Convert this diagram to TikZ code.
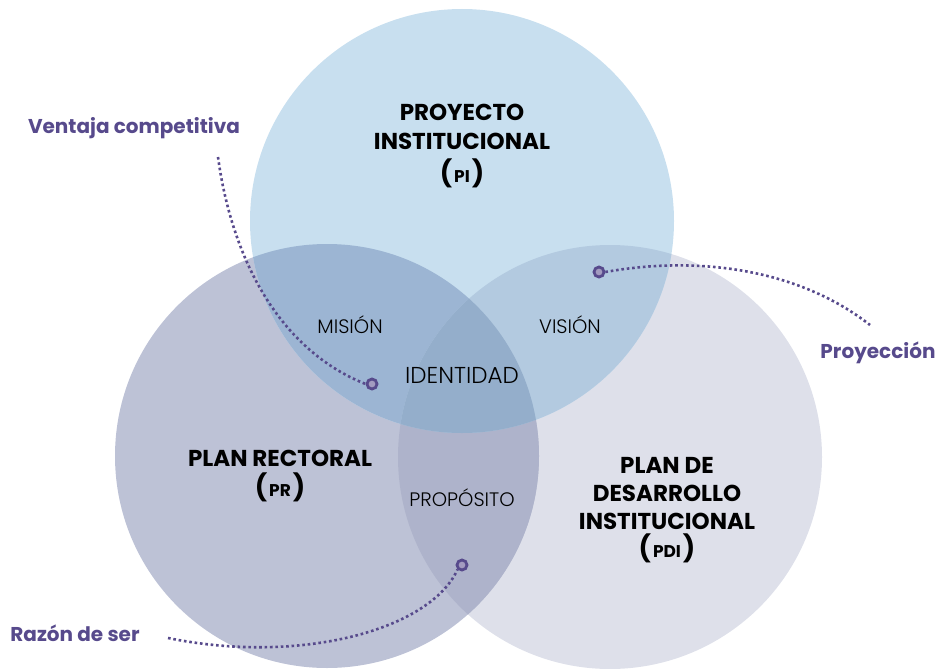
\documentclass[tikz,border=0pt]{standalone}
\usepackage{fontspec}
\setmainfont{Poppins}
\newfontfamily\lightf{Poppins}[UprightFont=* Light]
\definecolor{cTop}{HTML}{C8DFEF}
\definecolor{cLeft}{HTML}{BDC2D6}
\definecolor{cRight}{HTML}{DEE0EA}
\definecolor{cTL}{HTML}{9CB5D3}
\definecolor{cTR}{HTML}{B3CAE0}
\definecolor{cLR}{HTML}{AEB3CB}
\definecolor{cAll}{HTML}{94AECB}
\definecolor{pur}{HTML}{574A8C}
\newcommand{\abbr}[1]{{\fontsize{26}{29}\selectfont(\hspace{2pt}}{\fontsize{17}{18}\selectfont #1}{\fontsize{26}{29}\selectfont\hspace{2pt})}}
\tikzset{
  big/.style={font=\bfseries\fontsize{23}{29}\selectfont, align=center, text=black},
  thin/.style={font=\lightf\fontsize{19.5}{22}\selectfont, text=black},
  callout/.style={font=\bfseries\fontsize{20}{22}\selectfont, text=pur},
  dots/.style={draw=pur, line width=2.6pt, dash pattern=on 2.6pt off 2.8pt},
  endpt/.style={circle, draw=pur, line width=2.8pt, fill=pur!55, minimum size=10pt, inner sep=0pt}
}
\begin{document}
\begin{tikzpicture}[x=1pt,y=-1pt]
\useasboundingbox (0,0) rectangle (945,669);
\def\Tc{(462,221) circle (212)}
\def\Lc{(327,456) circle (212)}
\def\Rc{(610,457) circle (212)}
\fill[cRight] \Rc;
\fill[cLeft] \Lc;
\fill[cTop] \Tc;
\begin{scope}\clip \Lc; \fill[cLR] \Rc; \end{scope}
\begin{scope}\clip \Tc; \fill[cTL] \Lc; \end{scope}
\begin{scope}\clip \Tc; \fill[cTR] \Rc; \end{scope}
\begin{scope}\clip \Tc; \clip \Lc; \fill[cAll] \Rc; \end{scope}

\node[big] (pi) at (462,146) {PROYECTO\\INSTITUCIONAL\\[4pt]\abbr{PI}};
\node[big] (pr) at (280,476) {PLAN RECTORAL\\[1pt]\abbr{PR}};
\node[big, font=\bfseries\fontsize{23}{28}\selectfont] (pdi) at (667,510) {PLAN DE\\DESARROLLO\\INSTITUCIONAL\\[0pt]\abbr{PDI}};

\node[thin] (mision) at (350,325) {MISIÓN};
\node[thin] (vision) at (570,325) {VISIÓN};
\node[thin, font=\lightf\fontsize{23}{25}\selectfont] (ident) at (462,375) {IDENTIDAD};
\node[thin] (prop) at (462,498) {PROPÓSITO};

\node[callout] (vent) at (134,128) {Ventaja competitiva};
\node[callout] (proy) at (878,353) {Proyección};
\node[callout] (razon) at (75,633) {Razón de ser};

\node[endpt] (e1) at (372,384) {};
\node[endpt] (e2) at (599,272) {};
\node[endpt] (e3) at (462,565) {};

\coordinate (v0) at (218,157);
\coordinate (p0) at (870,325);
\coordinate (r0) at (168,638);

\draw[dots] (v0) .. controls (232,260) and (280,350) .. (e1.west);
\draw[dots] (e2.east) .. controls (700,255) and (800,270) .. (p0);
\draw[dots] (r0) .. controls (300,665) and (430,630) .. (e3.south west);
\end{tikzpicture}
\end{document}
